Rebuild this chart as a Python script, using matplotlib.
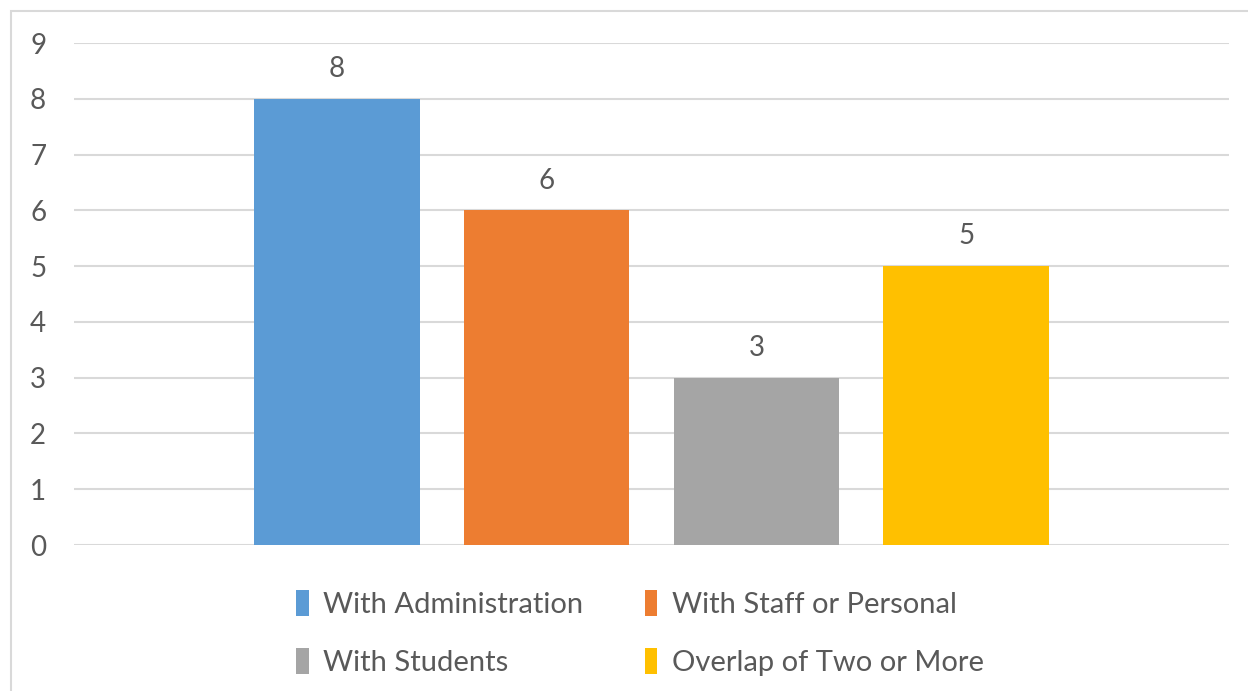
import matplotlib.pyplot as plt
from matplotlib.patches import Rectangle

categories = ["With Administration", "With Staff or Personal", "With Students", "Overlap of Two or More"]
values = [8, 6, 3, 5]
colors = ["#5B9BD5", "#ED7D31", "#A5A5A5", "#FFC000"]
yticks = list(range(0, 10))

plt.rcParams['font.family'] = ['Lato', 'DejaVu Sans']
txt = "#595959"

W, H = 1248, 691
fig = plt.figure(figsize=(W / 100, H / 100), dpi=100)
ax = fig.add_axes([74 / W, 1 - 545 / H, (1229 - 74) / W, (545 - 43) / H])

x = list(range(len(values)))
bars = ax.bar(x, values, width=0.79, color=colors, label=categories, zorder=3)
for b, v in zip(bars, values):
    ax.text(b.get_x() + b.get_width() / 2, v + 0.3, str(v), ha='center', va='bottom',
            fontsize=20, color=txt)

ax.set_xlim(-1.252, 4.252)
ax.set_ylim(0, 9)
ax.set_yticks(yticks)
ax.set_xticks([])
ax.yaxis.grid(True, color="#D9D9D9", linewidth=1.5, zorder=0)
for s in ax.spines.values():
    s.set_visible(False)
ax.tick_params(axis='y', length=0, pad=20, labelsize=20, labelcolor=txt)

# outer chart frame (cut off at right and bottom)
fig.patches.append(Rectangle((11 / W, -0.1), 1.1, 1.1 - 11 / H, transform=fig.transFigure,
                             fill=False, edgecolor="#D9D9D9", linewidth=1.5))

# legend filled row by row like the original
order = [0, 2, 1, 3]
fig.legend(handles=[bars[i] for i in order], labels=[categories[i] for i in order],
           ncol=2, loc='center',
           bbox_to_anchor=(640 / W, 1 - 633 / H), frameon=False,
           fontsize=21, labelcolor=txt, handlelength=0.42, handleheight=1.0,
           handletextpad=0.5, columnspacing=2.1, labelspacing=1.0)

fig.savefig("out.png", dpi=100)
